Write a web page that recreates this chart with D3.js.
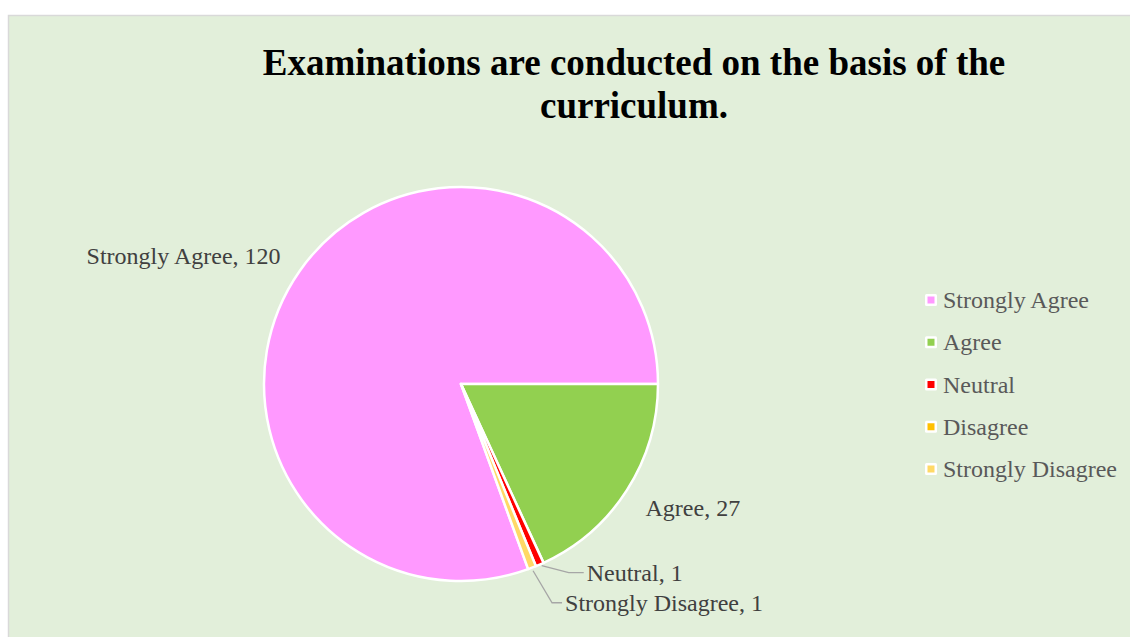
<!DOCTYPE html>
<html>
<head>
<meta charset="utf-8">
<script src="https://cdn.jsdelivr.net/npm/d3@7"></script>
<style>
html,body{margin:0;padding:0;background:#fff;}
svg{display:block;}
</style>
</head>
<body>
<svg id="chart" width="1130" height="637"></svg>
<script>
const categories = ["Strongly Agree", "Agree", "Neutral", "Disagree", "Strongly Disagree"];
const values = [120, 27, 1, 0, 1];
const colors = ["#FF99FF", "#92D050", "#FF0000", "#FFC000", "#FFD966"];
const titleLines = ["Examinations are conducted on the basis of the", "curriculum."];

const svg = d3.select("#chart");
const W = 1130, H = 637;

svg.append("rect").attr("x", 8.5).attr("y", 15.5).attr("width", W).attr("height", H)
  .attr("fill", "#E2EFDA").attr("stroke", "#D9D9D9").attr("stroke-width", 1.5);

const title = svg.append("text").attr("text-anchor", "middle")
  .attr("font-family", "'Liberation Serif','Times New Roman',serif")
  .attr("font-weight", "bold").attr("font-size", 37).attr("fill", "#000");
titleLines.forEach((t, i) => {
  title.append("tspan").attr("x", 634).attr("y", 75 + i * 43).text(t);
});

const cx = 461, cy = 384, R = 197;
const data = categories.map((c, i) => ({cat: c, value: values[i], color: colors[i]}));
const total = d3.sum(values);
const start = (90 - values[0] / total * 360) * Math.PI / 180;
const pie = d3.pie().value(d => d.value).sort(null).startAngle(start).endAngle(start + 2 * Math.PI);
const arcs = pie(data);
const arc = d3.arc().innerRadius(0).outerRadius(R);

const g = svg.append("g").attr("transform", `translate(${cx},${cy})`);
g.selectAll("path").data(arcs.filter(d => d.value > 0)).join("path")
  .attr("d", arc).attr("fill", d => d.data.color)
  .attr("stroke", "#fff").attr("stroke-width", 2.5).attr("stroke-linejoin", "round");

const labelFont = "'Liberation Serif','Times New Roman',serif";
const FS = 24;
function pt(a, r) { return [r * Math.sin(a), -r * Math.cos(a)]; }
const mid = d => (d.startAngle + d.endAngle) / 2;

// Strongly Agree label
{
  const d = arcs[0];
  const p = pt(mid(d), R * 1.1);
  g.append("text").attr("x", p[0] - 3).attr("y", p[1] + 4).attr("text-anchor", "end")
    .attr("font-family", labelFont).attr("font-size", FS).attr("fill", "#404040")
    .text(d.data.cat + ", " + d.data.value);
}
// Agree label
{
  const d = arcs[1];
  const p = pt(mid(d), R * 1.1);
  g.append("text").attr("x", p[0] + 2).attr("y", p[1] + 15).attr("text-anchor", "start")
    .attr("font-family", labelFont).attr("font-size", FS).attr("fill", "#404040")
    .text(d.data.cat + ", " + d.data.value);
}
// Neutral label with leader
{
  const d = arcs[2];
  const p0 = pt(mid(d), R);
  const tx = p0[0] + 46, ty = p0[1] + 8;
  g.append("polyline").attr("points", [[p0[0] + 2, p0[1] + 1], [p0[0] + 29, ty], [tx - 2, ty]].map(q => q.join(",")).join(" "))
    .attr("fill", "none").attr("stroke", "#A6A6A6").attr("stroke-width", 1.3);
  g.append("text").attr("x", tx + 1).attr("y", ty + 8)
    .attr("font-family", labelFont).attr("font-size", FS).attr("fill", "#404040")
    .text(d.data.cat + ", " + d.data.value);
}
// Strongly Disagree label with leader
{
  const d = arcs[4];
  const p0 = pt(mid(d), R);
  const tx = p0[0] + 32, ty = p0[1] + 35;
  g.append("polyline").attr("points", [[p0[0] + 1, p0[1] + 3], [p0[0] + 20, ty], [tx - 2, ty]].map(q => q.join(",")).join(" "))
    .attr("fill", "none").attr("stroke", "#A6A6A6").attr("stroke-width", 1.3);
  g.append("text").attr("x", tx + 1).attr("y", ty + 8)
    .attr("font-family", labelFont).attr("font-size", FS).attr("fill", "#404040")
    .text(d.data.cat + ", " + d.data.value);
}

// Legend
const ly = d3.scalePoint().domain(categories).range([300, 469]);
const leg = svg.append("g").selectAll("g").data(data).join("g")
  .attr("transform", d => `translate(925,${ly(d.cat)})`);
leg.append("rect").attr("x", 0).attr("y", -6).attr("width", 12).attr("height", 12)
  .attr("fill", "#fff").attr("rx", 1.5);
leg.append("rect").attr("x", 2.5).attr("y", -3.5).attr("width", 7).attr("height", 7)
  .attr("fill", d => d.color);
leg.append("text").attr("x", 18).attr("y", 8)
  .attr("font-family", labelFont).attr("font-size", FS).attr("fill", "#595959")
  .text(d => d.cat);
</script>
</body>
</html>
